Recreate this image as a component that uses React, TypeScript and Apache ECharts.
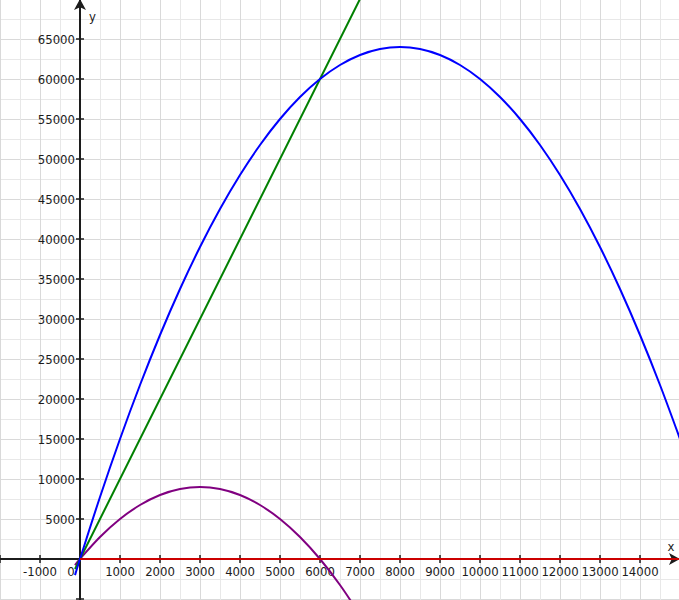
import React, { useEffect, useRef } from "react";
import * as echarts from "echarts";

// Axis ranges (data units)
const X_MIN = -2000;
const X_MAX = 15000;
const X_STEP = 1000;
const Y_MIN = -10000;
const Y_MAX = 70000;
const Y_STEP = 5000;

// Tick labels shown in the reference
const SHOWN_X_LABELS = [-1000, 0, 1000, 2000, 3000, 4000, 5000, 6000, 7000, 8000, 9000, 10000, 11000, 12000, 13000, 14000];
const SHOWN_Y_LABELS = [5000, 10000, 15000, 20000, 25000, 30000, 35000, 40000, 45000, 50000, 55000, 60000, 65000];

// Blue parabola samples
const blueX = [-125, 0, 500, 1000, 1500, 2000, 2500, 3000, 3500, 4000, 4500, 5000, 5500, 6000, 6500, 7000, 7500, 8000, 8500, 9000, 9500, 10000, 10500, 11000, 11500, 12000, 12500, 13000, 13500, 14000, 14500, 15000];
const blueY = [-2016, 0, 7750, 15000, 21750, 28000, 33750, 39000, 43750, 48000, 51750, 55000, 57750, 60000, 61750, 63000, 63750, 64000, 63750, 63000, 61750, 60000, 57750, 55000, 51750, 48000, 43750, 39000, 33750, 28000, 21750, 15000];

// Purple parabola samples
const purpleX = [-125, 0, 500, 1000, 1500, 2000, 2500, 3000, 3500, 4000, 4500, 5000, 5500, 6000, 6500, 7000];
const purpleY = [-766, 0, 2750, 5000, 6750, 8000, 8750, 9000, 8750, 8000, 6750, 5000, 2750, 0, -3250, -7000];

// Green line
const greenX = [-125, 7500];
const greenY = [-1250, 75000];

// Red line along the x axis
const redX = [0, 15000];
const redY = [0, 0];

const pairs = (xs: number[], ys: number[]) => xs.map((x, i) => [x, ys[i]]);

const FONT = '"DejaVu Sans Condensed", "DejaVu Sans", sans-serif';
const AXIS_COLOR = "#1c1c1c";
const LABEL_COLOR = "#1c1c1c";

export default function App() {
  const ref = useRef<HTMLDivElement>(null);

  useEffect(() => {
    document.body.style.margin = "0";
    if (!ref.current) return;
    const chart = echarts.init(ref.current, undefined, { renderer: "svg" });

    const baseX = { type: "value", min: X_MIN, max: X_MAX, interval: X_STEP };
    const baseY = { type: "value", min: Y_MIN, max: Y_MAX, interval: Y_STEP };
    const tick = { show: true, length: 4, lineStyle: { color: AXIS_COLOR, width: 1.5 } };
    const off = { show: false };
    const labelStyle = { fontFamily: FONT, fontSize: 13, color: LABEL_COLOR };

    // tick-only axis on zero (no line, no labels)
    const tickX = (position: string) => ({
      ...baseX,
      gridIndex: 0,
      position,
      axisLine: { show: false, onZero: true, onZeroAxisIndex: 0 },
      axisTick: tick,
      axisLabel: off,
      splitLine: off,
    });
    const tickY = (position: string) => ({
      ...baseY,
      gridIndex: 0,
      position,
      axisLine: { show: false, onZero: true, onZeroAxisIndex: 0 },
      axisTick: tick,
      axisLabel: off,
      splitLine: off,
    });

    const option: any = {
      animation: false,
      backgroundColor: "#ffffff",
      grid: [
        // main plotting grid
        { left: 0, right: -1, top: -1, bottom: -39, containLabel: false, outerBoundsMode: "none" },
        // grid whose bottom edge sits on y = 0 (x tick labels)
        { left: 0, right: -1, top: 0, height: 559, containLabel: false, outerBoundsMode: "none" },
        // grid whose left edge sits on x = 0 (y tick labels)
        { left: 80, width: 600, top: -1, bottom: -39, containLabel: false, outerBoundsMode: "none" },
      ],
      xAxis: [
        {
          ...baseX,
          gridIndex: 0,
          position: "bottom",
          name: "x",
          nameLocation: "end",
          nameGap: -9,
          nameTextStyle: {
            fontFamily: FONT,
            fontSize: 13,
            color: LABEL_COLOR,
            align: "center",
            verticalAlign: "bottom",
            padding: [0, 0, 6, 0],
          },
          axisLine: {
            show: true,
            onZero: true,
            onZeroAxisIndex: 0,
            symbol: ["none", "arrow"],
            symbolSize: [9, 11],
            lineStyle: { color: AXIS_COLOR, width: 2 },
          },
          axisTick: off,
          axisLabel: off,
          splitLine: { show: true, lineStyle: { color: "#d9d9d9", width: 1 } },
          minorTick: { show: false, splitNumber: 2 },
          minorSplitLine: { show: true, lineStyle: { color: "#e8e8e8", width: 1 } },
        },
        tickX("top"),
        tickX("bottom"),
        {
          ...baseX,
          gridIndex: 1,
          position: "bottom",
          axisLine: off,
          axisTick: off,
          splitLine: off,
          axisLabel: {
            show: true,
            margin: 6,
            ...labelStyle,
            showMinLabel: true,
            showMaxLabel: true,
            hideOverlap: false,
            formatter: (v: number) => {
              if (SHOWN_X_LABELS.indexOf(v) < 0) return "";
              if (v === 0) return "{z|0}";
              return String(v);
            },
            rich: { z: { ...labelStyle, padding: [0, 18, 0, 0] } },
          },
        },
        { ...baseX, gridIndex: 2, show: false, min: 0, max: 1, interval: 1 },
      ],
      yAxis: [
        {
          ...baseY,
          gridIndex: 0,
          position: "left",
          name: "y",
          nameLocation: "end",
          nameGap: -17,
          nameTextStyle: {
            fontFamily: FONT,
            fontSize: 13,
            color: LABEL_COLOR,
            align: "left",
            verticalAlign: "middle",
            padding: [0, 0, 0, 9],
          },
          axisLine: {
            show: true,
            onZero: true,
            onZeroAxisIndex: 0,
            symbol: ["none", "arrow"],
            symbolSize: [9, 11],
            lineStyle: { color: AXIS_COLOR, width: 2 },
          },
          axisTick: off,
          axisLabel: off,
          splitLine: { show: true, lineStyle: { color: "#d9d9d9", width: 1 } },
          minorTick: { show: false, splitNumber: 2 },
          minorSplitLine: { show: true, lineStyle: { color: "#e8e8e8", width: 1 } },
        },
        tickY("left"),
        tickY("right"),
        { ...baseY, gridIndex: 1, show: false, min: 0, max: 1, interval: 1 },
        {
          ...baseY,
          gridIndex: 2,
          position: "left",
          axisLine: off,
          axisTick: off,
          splitLine: off,
          axisLabel: {
            show: true,
            margin: 5,
            ...labelStyle,
            showMinLabel: true,
            showMaxLabel: true,
            hideOverlap: false,
            formatter: (v: number) => (SHOWN_Y_LABELS.indexOf(v) >= 0 ? String(v) : ""),
          },
        },
      ],
      series: [
        {
          type: "line",
          xAxisIndex: 0,
          yAxisIndex: 0,
          data: pairs(purpleX, purpleY),
          smooth: 0.34,
          showSymbol: false,
          lineStyle: { color: "#800080", width: 2 },
          itemStyle: { color: "#800080" },
          z: 3,
        },
        {
          type: "line",
          xAxisIndex: 0,
          yAxisIndex: 0,
          data: pairs(greenX, greenY),
          showSymbol: false,
          lineStyle: { color: "#008000", width: 2 },
          itemStyle: { color: "#008000" },
          z: 3,
        },
        {
          type: "line",
          xAxisIndex: 0,
          yAxisIndex: 0,
          data: pairs(blueX, blueY),
          smooth: 0.34,
          showSymbol: false,
          lineStyle: { color: "#0000ff", width: 2 },
          itemStyle: { color: "#0000ff" },
          z: 3,
        },
        {
          type: "line",
          xAxisIndex: 0,
          yAxisIndex: 0,
          data: pairs(redX, redY),
          showSymbol: false,
          lineStyle: { color: "#cc0000", width: 2 },
          itemStyle: { color: "#cc0000" },
          z: 4,
        },
      ],
    };

    chart.setOption(option);
    return () => chart.dispose();
  }, []);

  return <div ref={ref} style={{ width: 679, height: 600 }} />;
}
